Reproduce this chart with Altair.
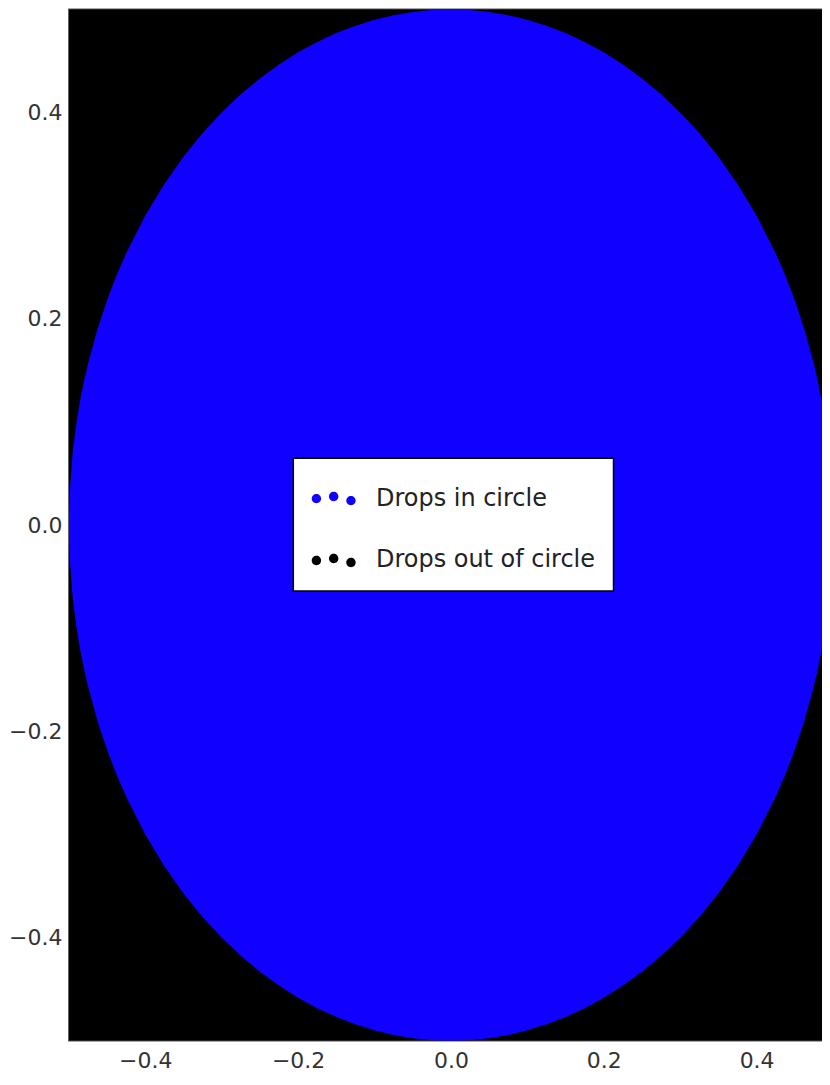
import altair as alt
import pandas as pd

# Boundary of the dense blue cloud ("drops in circle"):
# x positions and the half-height of the blue region at each x.
disk_x = [-0.5, -0.499, -0.495, -0.49, -0.485, -0.48, -0.475, -0.4625, -0.45, -0.4375,
          -0.425, -0.4, -0.375, -0.35, -0.325, -0.3, -0.275, -0.25, -0.225, -0.2,
          -0.175, -0.15, -0.125, -0.1, -0.075, -0.05, -0.025, 0.0,
          0.025, 0.05, 0.075, 0.1, 0.125, 0.15, 0.175, 0.2, 0.225, 0.25,
          0.275, 0.3, 0.325, 0.35, 0.375, 0.4, 0.425, 0.4375, 0.45, 0.4625,
          0.475, 0.48, 0.485, 0.49, 0.495, 0.499, 0.5]
disk_half = [0.0, 0.0316, 0.0705, 0.0995, 0.1216, 0.14, 0.1561, 0.19, 0.2179, 0.2421,
             0.2634, 0.3, 0.3307, 0.3571, 0.38, 0.4, 0.4176, 0.433, 0.4465, 0.4583,
             0.4684, 0.477, 0.4841, 0.4899, 0.4943, 0.4975, 0.4994, 0.5,
             0.4994, 0.4975, 0.4943, 0.4899, 0.4841, 0.477, 0.4684, 0.4583, 0.4465, 0.433,
             0.4176, 0.4, 0.38, 0.3571, 0.3307, 0.3, 0.2634, 0.2421, 0.2179, 0.19,
             0.1561, 0.14, 0.1216, 0.0995, 0.0705, 0.0316, 0.0]

# Extent of the dense black cloud ("drops out of circle")
out_x = [-0.5]
out_x2 = [0.5]
out_y = [-0.5]
out_y2 = [0.5]

categories = ["Drops in circle", "Drops out of circle"]
colors = ["#1000ff", "#000000"]

x_ticks = [-0.4, -0.2, 0.0, 0.2, 0.4]
y_ticks = [-0.4, -0.2, 0.0, 0.2, 0.4]

disk_df = pd.DataFrame({
    "x": disk_x,
    "top": disk_half,
    "bottom": [-h for h in disk_half],
    "kind": [categories[0]] * len(disk_x),
})
out_df = pd.DataFrame({"x": out_x, "x2": out_x2, "y": out_y, "y2": out_y2,
                       "kind": [categories[1]]})

three_dots = ("M-0.98,0 a0.21,0.21 0 1,0 0.42,0 a0.21,0.21 0 1,0 -0.42,0 Z "
              "M-0.21,-0.09 a0.21,0.21 0 1,0 0.42,0 a0.21,0.21 0 1,0 -0.42,0 Z "
              "M0.56,0.09 a0.21,0.21 0 1,0 0.42,0 a0.21,0.21 0 1,0 -0.42,0 Z")

color = alt.Color(
    "kind:N",
    scale=alt.Scale(domain=categories, range=colors),
    legend=alt.Legend(
        title=None, orient="none", legendX=225, legendY=450,
        fillColor="white", strokeColor="black", padding=18,
        labelFont="DejaVu Sans", labelFontSize=24, labelColor="#222222",
        labelLimit=400, labelOffset=20, rowPadding=27,
        symbolType=three_dots, symbolSize=2025, symbolStrokeWidth=0,
    ),
)

xs = alt.Scale(domain=[-0.5, 0.4856], nice=False, zero=False)
ys = alt.Scale(domain=[-0.5, 0.5], nice=False, zero=False)

x_axis = alt.Axis(title=None, values=x_ticks, format=".1f", ticks=False, domain=False,
                  grid=False, labelPadding=10, minExtent=32, maxExtent=32)
y_axis = alt.Axis(title=None, values=y_ticks, format=".1f", ticks=False, domain=False,
                  grid=False, labelPadding=7, minExtent=59, maxExtent=59)

rect = alt.Chart(out_df).mark_rect(clip=True).encode(
    x=alt.X("x:Q", scale=xs, axis=x_axis),
    x2="x2:Q",
    y=alt.Y("y:Q", scale=ys, axis=y_axis),
    y2="y2:Q",
    color=color,
)

area = alt.Chart(disk_df).mark_area(clip=True, interpolate="linear").encode(
    x=alt.X("x:Q", scale=xs, axis=x_axis),
    y=alt.Y("top:Q", scale=ys, axis=y_axis),
    y2="bottom:Q",
    color=color,
)

chart = (
    alt.layer(rect, area)
    .properties(width=755, height=1034, padding=0, background="white")
    .configure_view(stroke="#555555", strokeWidth=1.5)
    .configure_axis(labelFont="DejaVu Sans", labelFontSize=22, labelColor="#333333")
    .configure_legend(strokeWidth=1.5, cornerRadius=0)
)

chart.save("out.html", embed_options={"renderer": "svg", "actions": False})
